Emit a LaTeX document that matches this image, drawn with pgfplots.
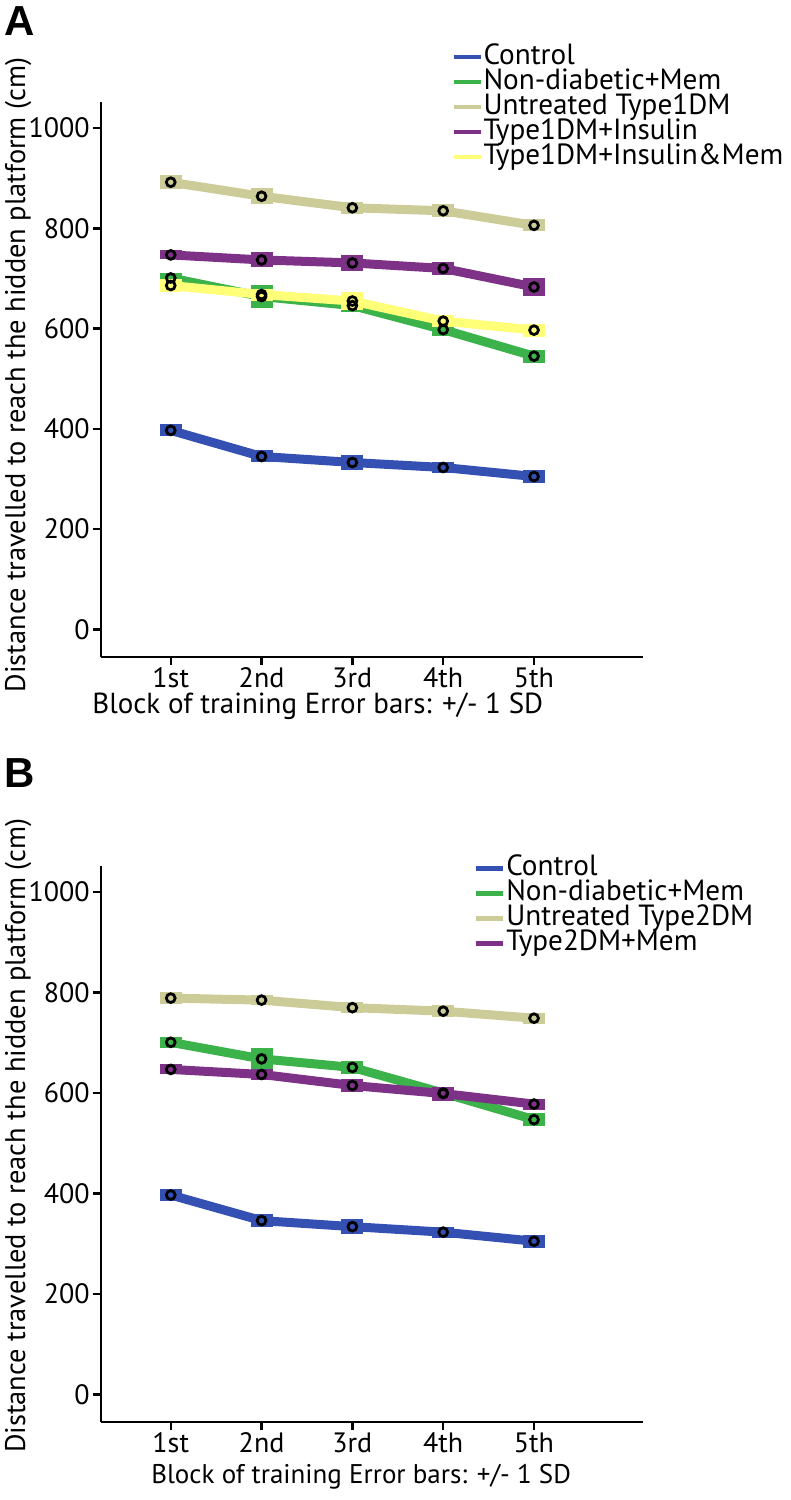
\documentclass[border=0pt]{standalone}
\usepackage{fontspec}
\setmainfont{PT Sans}
\newfontfamily\panelfont{Liberation Sans}
\usepackage{pgfplots}
\pgfplotsset{compat=1.18}
\usepackage{pgfplotstable}

\definecolor{ctrl}{RGB}{52,80,178}
\definecolor{nondm}{RGB}{60,178,74}
\definecolor{untr}{RGB}{204,204,153}
\definecolor{purp}{RGB}{125,50,135}
\definecolor{yell}{RGB}{255,255,120}

% panel A
\pgfplotstableread{
x y sd
1 397 12
2 345 12
3 333 15
4 323 10
5 305 13
}\ctrlA
\pgfplotstableread{
x y sd
1 701 9
2 664 23
3 646 13
4 598 13
5 545 13
}\memA
\pgfplotstableread{
x y sd
1 892 14
2 864 16
3 841 12
4 835 13
5 806 12
}\untrA
\pgfplotstableread{
x y sd
1 747 9
2 737 15
3 731 16
4 720 13
5 683 17
}\insA
\pgfplotstableread{
x y sd
1 686 12
2 668 12
3 655 18
4 615 12
5 597 13
}\insmemA

% panel B
\pgfplotstableread{
x y sd
1 397 12
2 346 13
3 334 15
4 323 11
5 305 13
}\ctrlB
\pgfplotstableread{
x y sd
1 701 11
2 668 21
3 651 13
4 600 10
5 547 13
}\memB
\pgfplotstableread{
x y sd
1 789 12
2 785 10
3 770 11
4 763 12
5 749 11
}\untrB
\pgfplotstableread{
x y sd
1 647 10
2 637 11
3 615 12
4 599 14
5 578 11
}\typeB

\pgfplotsset{
  panel/.style={
    scale only axis, width=271pt,
    axis lines=left, axis line style={-, line width=1.2pt},
    xmin=0.232, xmax=6.2, ymin=-55, ymax=1052,
    xtick={1,...,5}, xticklabels={1st,2nd,3rd,4th,5th},
    ytick={0,200,...,1000},
    tick align=outside, major tick length=4pt,
    tick style={line width=1.2pt, black},
    ticklabel style={font=\fontsize{14}{14}\selectfont},
    yticklabel style={inner sep=1.5pt},
    xticklabel style={inner sep=1pt, text depth=0pt},
    /pgf/number format/.cd, 1000 sep={}, assume math mode=true,
    /pgfplots/.cd,
    clip=false,
    legend cell align=left,
    legend style={draw=none, fill=none, inner sep=0pt,
      font=\fontsize{14.6}{14.6}\selectfont,
      nodes={inner xsep=0.3pt, inner ysep=0pt, text height=10pt, text depth=2.5pt}},
    legend image code/.code={\draw[line width=2.2pt] (0pt,0pt) -- (13.5pt,0pt);},
  },
  ser/.style={#1, line width=4.5pt, line join=round,
    error bars/.cd, y dir=both, y explicit, error mark=none,
    error bar style={line width=11pt, #1}},
  dots/.style={forget plot, only marks, mark=o, mark size=2.2pt,
    mark options={line width=1.4pt, black}},
}

\begin{document}
\begin{tikzpicture}
\useasboundingbox (0,0) rectangle (395.5pt,-750pt);

\node[anchor=north west, inner sep=0pt, font=\panelfont\bfseries\fontsize{21}{21}\selectfont] at (2pt,-3pt) {A};
\node[anchor=north west, inner sep=0pt, font=\panelfont\bfseries\fontsize{21}{21}\selectfont] at (2pt,-379pt) {B};

\begin{axis}[panel, height=277.5pt,
  at={(50.5pt,-328.5pt)}, anchor=south west,
  ylabel={Distance travelled to reach the hidden platform (cm)},
  ylabel style={at={(axis description cs:-0.153,0.508)}, anchor=center,
    font=\fontsize{14.2}{14.2}\selectfont},
  xlabel={Block of training Error bars: +/- 1 SD},
  xlabel style={at={(axis description cs:0.40,-0.089)}, anchor=center,
    font=\fontsize{14.5}{14.5}\selectfont},
  legend style={at={(axis description cs:0.646,1.104)}, anchor=north west},
]
\addplot[ser=ctrl] table[x=x, y=y, y error=sd] {\ctrlA};
\addlegendentry{Control}
\addplot[ser=nondm] table[x=x, y=y, y error=sd] {\memA};
\addlegendentry{Non-diabetic+Mem}
\addplot[ser=untr] table[x=x, y=y, y error=sd] {\untrA};
\addlegendentry{Untreated Type1DM}
\addplot[ser=purp] table[x=x, y=y, y error=sd] {\insA};
\addlegendentry{Type1DM+Insulin}
\addplot[ser=yell] table[x=x, y=y, y error=sd] {\insmemA};
\addlegendentry{Type1DM+Insulin\&Mem}
\addplot[dots] table[x=x, y=y] {\ctrlA};
\addplot[dots] table[x=x, y=y] {\memA};
\addplot[dots] table[x=x, y=y] {\untrA};
\addplot[dots] table[x=x, y=y] {\insA};
\addplot[dots] table[x=x, y=y] {\insmemA};
\end{axis}

\begin{axis}[panel, height=278pt,
  at={(50.5pt,-711pt)}, anchor=south west,
  ylabel={Distance travelled to reach the hidden platform (cm)},
  ylabel style={at={(axis description cs:-0.153,0.515)}, anchor=center,
    font=\fontsize{14.2}{14.2}\selectfont},
  xlabel={Block of training Error bars: +/- 1 SD},
  xlabel style={at={(axis description cs:0.48,-0.099)}, anchor=center,
    font=\fontsize{13.5}{13.5}\selectfont},
  legend style={at={(axis description cs:0.688,1.019)}, anchor=north west},
]
\addplot[ser=ctrl] table[x=x, y=y, y error=sd] {\ctrlB};
\addlegendentry{Control}
\addplot[ser=nondm] table[x=x, y=y, y error=sd] {\memB};
\addlegendentry{Non-diabetic+Mem}
\addplot[ser=untr] table[x=x, y=y, y error=sd] {\untrB};
\addlegendentry{Untreated Type2DM}
\addplot[ser=purp] table[x=x, y=y, y error=sd] {\typeB};
\addlegendentry{Type2DM+Mem}
\addplot[dots] table[x=x, y=y] {\ctrlB};
\addplot[dots] table[x=x, y=y] {\memB};
\addplot[dots] table[x=x, y=y] {\untrB};
\addplot[dots] table[x=x, y=y] {\typeB};
\end{axis}
\end{tikzpicture}
\end{document}
